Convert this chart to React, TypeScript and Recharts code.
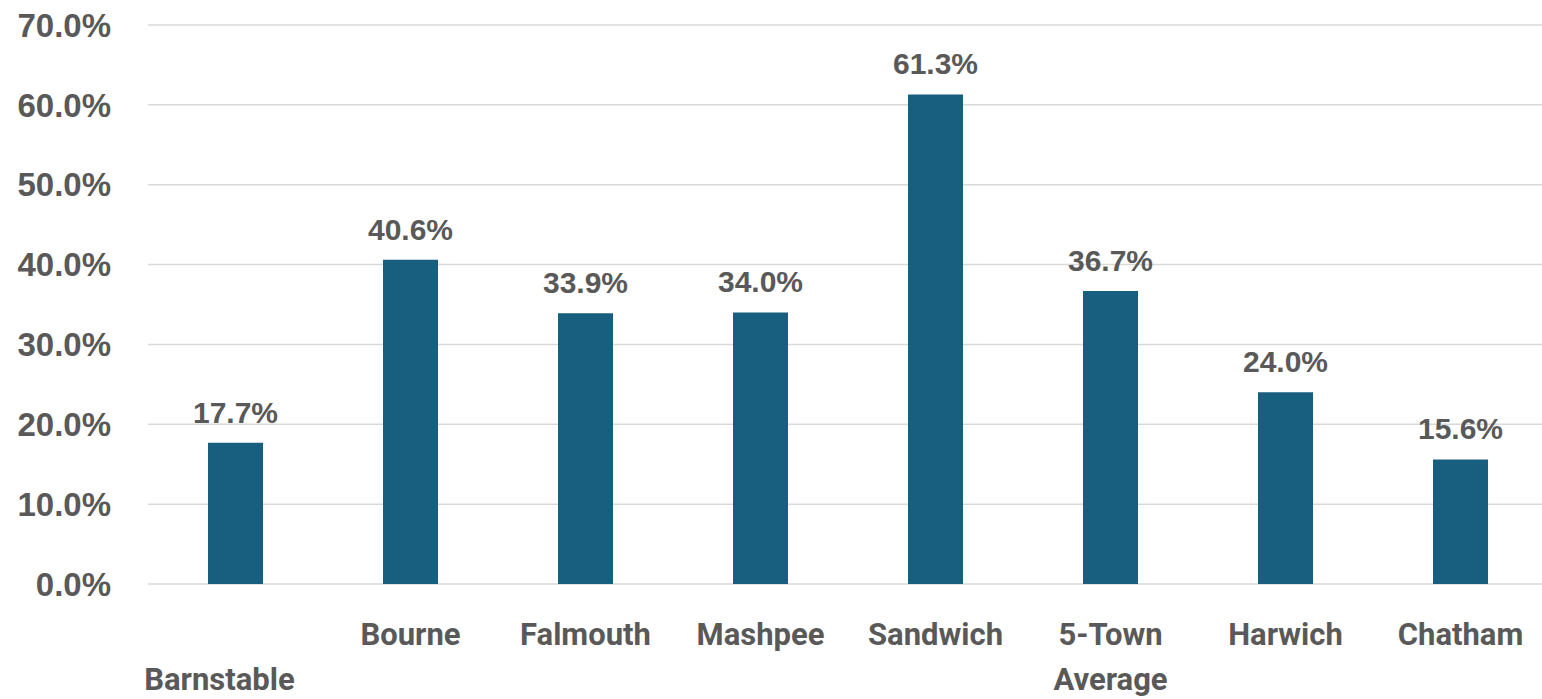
import { BarChart, Bar, XAxis, YAxis, CartesianGrid, LabelList } from 'recharts'

const towns = ['Barnstable', 'Bourne', 'Falmouth', 'Mashpee', 'Sandwich', '5-Town Average', 'Harwich', 'Chatham']
const shares = [17.7, 40.6, 33.9, 34.0, 61.3, 36.7, 24.0, 15.6]
const yTicks = [0, 10, 20, 30, 40, 50, 60, 70]

// tick text broken into lines; Barnstable sits on the second row
const tickLines: Record<string, string[]> = {
  Barnstable: ['', 'Barnstable'],
  '5-Town Average': ['5-Town', 'Average'],
}
const tickShift: Record<string, number> = { Barnstable: -16 }

const data = towns.map((town, i) => ({ town, share: shares[i] }))

const LABEL_FONT = 'Roboto, "Liberation Sans", sans-serif'
const NUM_FONT = '"Liberation Sans", Arial, sans-serif'
const TEXT = '#595959'
const BAR = '#175E7F'

function TownTick({ x, y, payload }: any) {
  const lines = tickLines[payload.value] ?? [payload.value]
  const dx = tickShift[payload.value] ?? 0
  return (
    <g>
      {lines.map((line, i) =>
        line ? (
          <text
            key={i}
            x={x + dx}
            y={y + 53 + i * 45}
            textAnchor="middle"
            fill={TEXT}
            fontSize={31}
            fontWeight={700}
            fontFamily={LABEL_FONT}
          >
            {line}
          </text>
        ) : null
      )}
    </g>
  )
}

export default function App() {
  return (
    <div
      style={{
        position: 'absolute',
        left: 0,
        top: 0,
        width: 1542,
        height: 699,
        overflow: 'hidden',
        background: '#fff',
      }}
    >
      <BarChart width={1548} height={699} data={data} margin={{ top: 25, right: 0, bottom: 0, left: 0 }}>
        <CartesianGrid vertical={false} stroke="#d9d9d9" strokeWidth={1.5} />
        <XAxis
          dataKey="town"
          interval={0}
          axisLine={false}
          tickLine={false}
          height={115}
          tick={<TownTick />}
        />
        <YAxis
          domain={[0, 70]}
          ticks={yTicks}
          width={148}
          axisLine={false}
          tickLine={false}
          tickSize={0}
          tickMargin={37}
          tickFormatter={(v: number) => `${v.toFixed(1)}%`}
          tick={{ fill: TEXT, fontSize: 33, fontWeight: 700, fontFamily: NUM_FONT }}
        />
        <Bar dataKey="share" fill={BAR} barSize={55} isAnimationActive={false}>
          <LabelList
            dataKey="share"
            position="top"
            offset={20}
            formatter={(v: any) => `${Number(v).toFixed(1)}%`}
            fill={TEXT}
            fontSize={30}
            fontWeight={700}
            fontFamily={NUM_FONT}
          />
        </Bar>
      </BarChart>
    </div>
  )
}
